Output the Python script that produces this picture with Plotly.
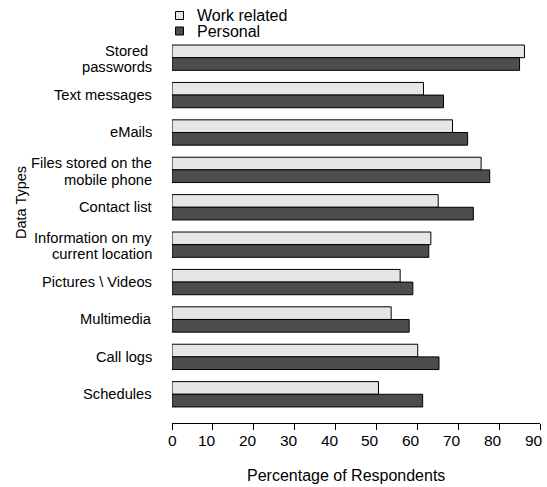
import plotly.graph_objects as go

# Survey data: share of respondents per data type
categories = [
    "Stored\u00a0\npasswords",
    "Text messages",
    "eMails",
    "Files stored on the\nmobile phone",
    "Contact list",
    "Information on my\ncurrent location",
    "Pictures \\ Videos",
    "Multimedia",
    "Call logs",
    "Schedules",
]
work_related = [86.2, 61.5, 68.6, 75.6, 65.1, 63.3, 55.8, 53.6, 60.1, 50.5]
personal = [85.0, 66.4, 72.3, 77.7, 73.7, 62.8, 58.9, 58.0, 65.3, 61.3]
series_names = ["Work related", "Personal"]
series_colors = ["#e6e6e6", "#4d4d4d"]
x_ticks = [0, 10, 20, 30, 40, 50, 60, 70, 80, 90]

FONT = "Liberation Sans, Arial, Helvetica, sans-serif"
W, H = 547, 487
ML, MR, MT, MB = 172, 7, 40, 64
LABEL_SIZE = 14.7
LINE_STEP = 16.7

fig = go.Figure()
for name, vals, col in zip(series_names, [work_related, personal], series_colors):
    fig.add_trace(go.Bar(
        y=categories, x=vals, orientation="h", name=name,
        marker=dict(color=col, line=dict(color="black", width=1)),
        showlegend=False,
    ))

plot_w = W - ML - MR
plot_h = H - MT - MB
def px_x(p):
    return (p - ML) / plot_w
def px_y(p):
    return (H - MB - p) / plot_h

shapes = []
annotations = []

# Legend: small squares with labels above the bars
for i, (name, col) in enumerate(zip(series_names, series_colors)):
    cy = 15.5 + 15.5 * i
    shapes.append(dict(
        type="rect", xref="paper", yref="paper",
        x0=px_x(175.5), x1=px_x(183.5), y0=px_y(cy + 4), y1=px_y(cy - 4),
        fillcolor=col, line=dict(color="black", width=1),
    ))
    annotations.append(dict(
        xref="paper", yref="paper", x=px_x(195), y=px_y(cy + 0.5),
        text=name, showarrow=False, xanchor="left", yanchor="middle",
        font=dict(family=FONT, size=16, color="black"),
    ))

# Category labels, one annotation per text line for tight line spacing
for cat in categories:
    lines = cat.split("\n")
    n = len(lines)
    for j, line in enumerate(lines):
        offset = ((n - 1) / 2 - j) * LINE_STEP - (1.3 if n > 1 else 0)
        annotations.append(dict(
            xref="paper", yref="y", x=px_x(153.5), y=cat, yshift=offset,
            text=line, showarrow=False, xanchor="right", yanchor="middle",
            font=dict(family=FONT, size=LABEL_SIZE, color="black"),
        ))

# x tick labels, placed on the axis scale; multi-digit labels sit slightly left
for t in x_ticks:
    label = str(t)
    annotations.append(dict(
        xref="x", yref="paper", x=t, y=px_y(440.5),
        xshift=-6 * (len(label) - 1),
        text=label, showarrow=False, xanchor="center", yanchor="middle",
        font=dict(family=FONT, size=15.5, color="black"),
    ))

annotations.append(dict(
    xref="paper", yref="paper", x=px_x(21), y=px_y(203),
    text="Data Types", textangle=-90, showarrow=False,
    xanchor="center", yanchor="middle",
    font=dict(family=FONT, size=14.5, color="black"),
))
annotations.append(dict(
    xref="paper", yref="paper", x=px_x(346), y=px_y(475),
    text="Percentage of Respondents", showarrow=False,
    xanchor="center", yanchor="middle",
    font=dict(family=FONT, size=16, color="black"),
))

fig.update_layout(
    width=W, height=H,
    margin=dict(l=ML, r=MR, t=MT, b=MB, pad=0),
    paper_bgcolor="white", plot_bgcolor="white",
    barmode="group", bargap=0.323, bargroupgap=0,
    font=dict(family=FONT, size=LABEL_SIZE, color="black"),
    shapes=shapes, annotations=annotations,
    xaxis=dict(
        range=[0, 90], tickvals=x_ticks, showticklabels=False,
        showgrid=False, zeroline=False, showline=True, linecolor="black",
        linewidth=1, ticks="outside", ticklen=6, tickcolor="black",
        tickwidth=1, automargin=False, fixedrange=True,
    ),
    yaxis=dict(
        type="category", categoryorder="array", categoryarray=categories,
        range=[9.768, -0.473], showgrid=False, zeroline=False,
        showline=False, ticks="", showticklabels=False, automargin=False,
        fixedrange=True,
    ),
)

fig.write_html("out.html")
